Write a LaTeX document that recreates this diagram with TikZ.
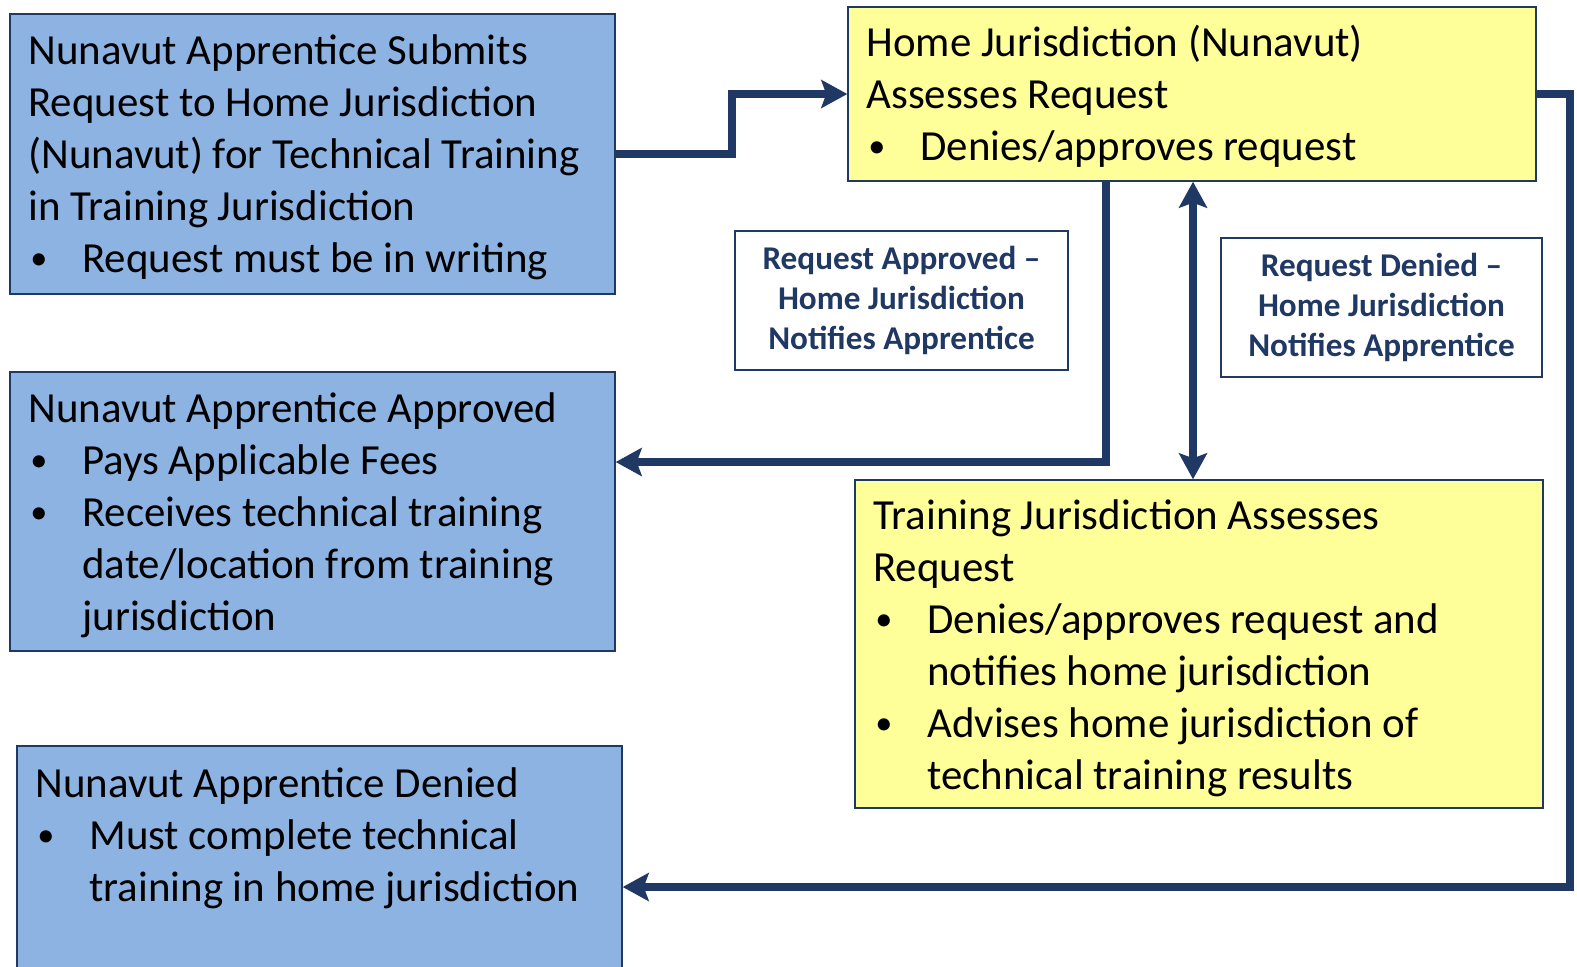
\documentclass[tikz,border=0pt]{standalone}
\usepackage{fontspec}
\setmainfont{Carlito}
\usetikzlibrary{arrows.meta,fit}
\definecolor{bluefill}{HTML}{8DB3E2}
\definecolor{yellowfill}{HTML}{FFFF99}
\definecolor{navy}{HTML}{1F3864}
\newcommand{\bitem}{\makebox[27pt][l]{\hspace*{1pt}\raisebox{1.5pt}{\scalebox{0.8}{\textbullet}}}}
\newcommand{\bind}{\hspace*{27pt}}
\tikzset{
  boxbase/.style={draw=navy, line width=0.7pt, inner sep=0pt, rectangle},
  bluebox/.style={boxbase, fill=bluefill},
  yellowbox/.style={boxbase, fill=yellowfill},
  lblbox/.style={boxbase, fill=white, align=center, text=navy,
    font=\fontsize{16.6pt}{20pt}\selectfont\bfseries},
  txt/.style={anchor=north west, inner sep=0pt, align=left, text=black,
    font=\fontsize{21.45pt}{26pt}\selectfont},
  tip/.tip={Stealth[length=13pt,width=14pt,inset=2.5pt]},
  conn/.style={draw=navy, line width=4.2pt, line join=miter, -tip},
  conn2/.style={draw=navy, line width=4pt, tip-tip}
}
\begin{document}
\begin{tikzpicture}[x=0.5pt,y=-0.5pt]
\useasboundingbox (0,0) rectangle (1577,966);
\clip (0,0) rectangle (1577,966);
% boxes
\node[bluebox, fit={(10,14)(615,294)}] (b1) {};
\node[bluebox, fit={(10,372)(615,651)}] (b2) {};
\node[bluebox, fit={(17,746)(622,990)}] (b3) {};
\node[yellowbox, fit={(848,7)(1536,181)}] (home) {};
\node[yellowbox, fit={(855,480)(1543,808)}] (train) {};
% labels
\node[lblbox, minimum width=166.5pt, minimum height=69.5pt] (l1) at (901.5,300.5) {Request Approved --\\Home Jurisdiction\\Notifies Apprentice};
\node[lblbox, minimum width=160.5pt, minimum height=69.5pt] (l2) at (1381.5,307.5) {Request Denied --\\Home Jurisdiction\\Notifies Apprentice};
% texts
\node[txt] (t1) at (28,34) {Nunavut Apprentice Submits\\Request to Home Jurisdiction\\(Nunavut) for Technical Training\\in Training Jurisdiction\\\bitem Request must be in writing};
\node[txt] (t2) at (28,392) {Nunavut Apprentice Approved\\\bitem Pays Applicable Fees\\\bitem Receives technical training\\\bind date/location from training\\\bind jurisdiction};
\node[txt] (t3) at (35,767) {Nunavut Apprentice Denied\\\bitem Must complete technical\\\bind training in home jurisdiction};
\node[txt] (th) at (866,25) {Home Jurisdiction (Nunavut)\\Assesses Request\\\bitem Denies/approves request};
\node[txt] (tt) at (873,499) {Training Jurisdiction Assesses\\Request\\\bitem Denies/approves request and\\\bind notifies home jurisdiction\\\bitem Advises home jurisdiction of\\\bind technical training results};
% connectors
\coordinate (c1) at (1106,462);
\coordinate (c2) at (1193,300);
\coordinate (c3) at (1570,887);
\draw[conn] (b1.east) -- ++(116,0) |- (home.west);
\draw[conn] (c1 |- home.south) -- (c1) -- (c1 -| b2.east);
\draw[conn2] (c2 |- home.south) -- (c2 |- train.north);
\draw[conn] (home.east) -- (home.east -| c3) -- (c3) -- (c3 -| b3.east);
\end{tikzpicture}
\end{document}
